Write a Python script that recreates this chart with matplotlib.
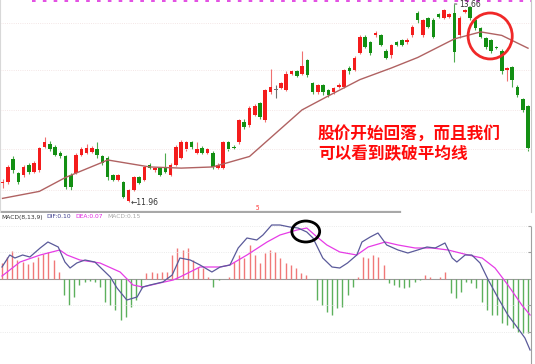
import matplotlib.pyplot as plt
import numpy as np
from matplotlib.patches import Ellipse

plt.rcParams['font.family'] = ['Noto Sans CJK SC', 'DejaVu Sans']

############################## Datos (K线) ##############################
opens = [12.12, 12.13, 12.33, 12.21, 12.19, 12.28, 12.22, 12.23, 12.43, 12.46,
         12.43, 12.38, 12.35, 12.19, 12.21, 12.36, 12.38, 12.39, 12.41, 12.35,
         12.34, 12.19, 12.15, 12.13, 11.97, 12.06, 12.17, 12.15, 12.28, 12.23,
         12.25, 12.26, 12.19, 12.28, 12.34, 12.41, 12.47, 12.38, 12.42, 12.38,
         12.38, 12.25, 12.25, 12.47, 12.43, 12.47, 12.65, 12.62, 12.71, 12.81,
         12.66, 12.90, 12.92, 12.94, 12.92, 13.06, 13.08, 13.06, 13.18, 12.98,
         12.90, 12.96, 12.92, 12.90, 12.95, 12.95, 13.11, 13.09, 13.24, 13.38,
         13.33, 13.39, 13.39, 13.26, 13.22, 13.33, 13.35, 13.33, 13.39, 13.58,
         13.39, 13.54, 13.52, 13.57, 13.54, 13.55, 13.58, 13.39, 13.59, 13.63,
         13.52, 13.45, 13.37, 13.35, 13.29, 13.26, 13.09, 13.12, 12.95, 12.84,
         12.78]
closes = [12.13, 12.26, 12.23, 12.13, 12.26, 12.22, 12.29, 12.42, 12.47, 12.41,
          12.36, 12.35, 12.09, 12.09, 12.36, 12.41, 12.42, 12.42, 12.36, 12.29,
          12.17, 12.15, 12.19, 12.00, 12.06, 12.17, 12.12, 12.26, 12.25, 12.25,
          12.19, 12.22, 12.28, 12.43, 12.47, 12.47, 12.43, 12.41, 12.38, 12.41,
          12.26, 12.28, 12.47, 12.41, 12.42, 12.66, 12.60, 12.77, 12.78, 12.69,
          12.92, 12.95, 12.92, 12.98, 13.06, 13.08, 13.04, 13.13, 13.05, 12.90,
          12.96, 12.90, 12.88, 12.94, 12.96, 13.09, 13.08, 13.20, 13.38, 13.29,
          13.24, 13.41, 13.31, 13.20, 13.31, 13.31, 13.31, 13.35, 13.46, 13.52,
          13.52, 13.46, 13.38, 13.55, 13.61, 13.57, 13.25, 13.54, 13.61, 13.54,
          13.45, 13.38, 13.29, 13.26, 13.28, 13.08, 13.11, 13.01, 12.88, 12.75,
          12.42]
highs = [12.16, 12.28, 12.35, 12.22, 12.28, 12.29, 12.31, 12.43, 12.52, 12.48,
         12.45, 12.40, 12.36, 12.21, 12.38, 12.43, 12.46, 12.44, 12.47, 12.36,
         12.35, 12.20, 12.20, 12.14, 12.07, 12.18, 12.18, 12.27, 12.29, 12.26,
         12.26, 12.38, 12.29, 12.45, 12.49, 12.48, 12.48, 12.47, 12.44, 12.42,
         12.40, 12.29, 12.48, 12.48, 12.45, 12.67, 12.67, 12.78, 12.80, 12.82,
         12.93, 13.10, 12.96, 12.99, 13.08, 13.09, 13.09, 13.26, 13.19, 12.99,
         12.97, 12.97, 12.93, 12.95, 12.98, 13.10, 13.13, 13.21, 13.39, 13.39,
         13.34, 13.43, 13.40, 13.27, 13.32, 13.34, 13.36, 13.37, 13.48, 13.60,
         13.53, 13.55, 13.54, 13.58, 13.62, 13.58, 13.66, 13.56, 13.62, 13.64,
         13.53, 13.46, 13.38, 13.36, 13.30, 13.27, 13.12, 13.13, 12.96, 12.85,
         12.79]
lows = [12.08, 12.11, 12.21, 12.11, 12.17, 12.20, 12.21, 12.22, 12.42, 12.40,
        12.35, 12.34, 12.07, 12.06, 12.20, 12.35, 12.37, 12.38, 12.34, 12.28,
        12.15, 12.14, 12.14, 11.99, 11.96, 12.05, 12.11, 12.14, 12.24, 12.22,
        12.18, 12.21, 12.18, 12.27, 12.33, 12.40, 12.41, 12.37, 12.37, 12.37,
        12.24, 12.24, 12.24, 12.40, 12.41, 12.46, 12.59, 12.60, 12.70, 12.67,
        12.65, 12.89, 12.85, 12.93, 12.91, 13.05, 13.03, 13.05, 13.03, 12.89,
        12.89, 12.88, 12.86, 12.89, 12.94, 12.94, 13.06, 13.08, 13.23, 13.28,
        13.22, 13.38, 13.30, 13.19, 13.20, 13.30, 13.30, 13.32, 13.38, 13.50,
        13.38, 13.45, 13.37, 13.54, 13.53, 13.54, 13.16, 13.37, 13.58, 13.52,
        13.44, 13.37, 13.27, 13.24, 13.27, 13.06, 13.00, 12.95, 12.86, 12.73,
        12.40]

# media movil
ma_day = [0, 7, 12, 19, 20, 28, 34, 40, 47, 53, 57, 62, 68, 74, 79, 86, 91, 95, 100]
ma_val = [11.99, 12.05, 12.17, 12.30, 12.32, 12.26, 12.25, 12.26, 12.35, 12.59,
          12.75, 12.87, 13.01, 13.11, 13.20, 13.36, 13.42, 13.39, 13.28]

############################## Datos MACD ##############################
macd_hist = [0.08, 0.11, 0.14, 0.095, 0.085, 0.075, 0.085, 0.11, 0.125, 0.135,
             0.095, 0.035, -0.08, -0.13, -0.09, -0.03, -0.015, -0.01, -0.015, -0.04,
             -0.115, -0.13, -0.155, -0.205, -0.19, -0.14, -0.105, -0.045, 0.03, 0.035,
             0.03, 0.035, 0.035, 0.12, 0.155, 0.145, 0.155, 0.095, 0.06, 0.055,
             0.01, -0.04, -0.005, 0.0, 0.01, 0.085, 0.12, 0.105, 0.17, 0.12,
             0.08, 0.13, 0.145, 0.135, 0.105, 0.08, 0.07, 0.055, 0.03, 0.02,
             0.0, -0.105, -0.13, -0.165, -0.18, -0.145, -0.14, -0.08, -0.04, 0.01,
             0.11, 0.105, 0.12, 0.11, 0.07, -0.02, -0.03, -0.04, -0.045, -0.04,
             -0.015, -0.005, 0.02, 0.01, 0.0, 0.01, 0.035, -0.07, -0.095, -0.065,
             -0.015, -0.02, -0.045, -0.115, -0.155, -0.18, -0.18, -0.22, -0.23, -0.245,
             -0.265, -0.27, -0.27]

dif_day = [0, 1.5, 2.5, 4, 5.4, 7.4, 8.9, 10.9, 12.2, 13.2, 14.5, 16.1, 18, 19, 21,
           22.3, 24.2, 26.2, 27.3, 28.7, 31.2, 33, 34.5, 36.5, 38.4, 40.7, 42.3, 44.2,
           45.8, 47.5, 49.4, 50.6, 52.3, 53.9, 55.8, 57.4, 59.1, 60.3, 62.2, 64, 65.5,
           67, 68.8, 69.8, 71.4, 72.9, 74.6, 76.8, 78.7, 80.6, 82.4, 84, 85.9, 87.3,
           88.2, 89.8, 91.1, 92.7, 94.3, 96.2, 98.1, 100, 101.4, 102.4]
dif_val = [0.06, 0.12, 0.105, 0.12, 0.11, 0.155, 0.185, 0.16, 0.085, 0.055, 0.08,
           0.095, 0.085, 0.06, 0.01, -0.045, -0.105, -0.09, -0.04, -0.03, -0.015,
           0.02, 0.105, 0.095, 0.07, 0.035, 0.06, 0.07, 0.155, 0.205, 0.195, 0.22,
           0.27, 0.27, 0.26, 0.255, 0.235, 0.205, 0.105, 0.06, 0.055, 0.08, 0.12,
           0.185, 0.21, 0.23, 0.17, 0.145, 0.13, 0.145, 0.16, 0.155, 0.18, 0.105,
           0.085, 0.12, 0.12, 0.08, -0.005, -0.095, -0.18, -0.245, -0.295, -0.355]

dea_day = [0, 3.5, 7.4, 11.2, 12.6, 15.1, 19, 22.9, 25.4, 27.3, 30.6, 33.2, 34.5,
           38.4, 42.3, 44.2, 47.5, 51.4, 53.9, 57.2, 59.1, 61.1, 63, 65.5, 68.8, 71,
           74.3, 76.8, 80.1, 83.4, 86.5, 90.4, 93.1, 95.6, 98.1, 100.8, 102.4]
dea_val = [0.015, 0.085, 0.12, 0.145, 0.12, 0.095, 0.08, 0.035, -0.03, -0.04, -0.02,
           -0.005, 0.01, 0.06, 0.06, 0.07, 0.12, 0.185, 0.22, 0.245, 0.255, 0.21,
           0.17, 0.135, 0.12, 0.16, 0.185, 0.17, 0.155, 0.155, 0.145, 0.12, 0.105,
           0.055, -0.03, -0.13, -0.18]

note_lines = ['股价开始回落，而且我们', '可以看到跌破平均线']
macd_header = [('MACD(8,13,9)', '#333333'), ('DIF:0.10', '#3c3c8c'),
               ('DEA:0.07', '#e020e0'), ('MACD:0.15', '#a8a8a8')]

############################## Figura ##############################
W, H = 535, 364
fig = plt.figure(figsize=(W / 100, H / 100), dpi=100)
ax = fig.add_axes([0, 152 / H, 531 / W, 212 / H])
ax2 = fig.add_axes([0, 0, 531 / W, 151 / H])

x = np.arange(len(opens))
o = np.array(opens)
c = np.array(closes)
up_col, dn_col, flat_col = '#f41c1c', '#138f13', '#707070'
cols = [up_col if cc > oo else (dn_col if cc < oo else flat_col) for oo, cc in zip(o, c)]
wick_cols = ['#f07070' if cc > oo else ('#4caa4c' if cc < oo else flat_col) for oo, cc in zip(o, c)]

body_bot = np.minimum(o, c)
body_h = np.maximum(np.abs(c - o), 0.012)
ax.vlines(x, lows, highs, colors=wick_cols, lw=0.8, zorder=1)
ax.bar(x, body_h, bottom=body_bot, width=0.68, color=cols, linewidth=0, zorder=2)

ax.plot(ma_day, ma_val, color='#b06262', lw=1.0, zorder=3)

ax.set_xlim(-0.48, len(opens) - 1 + 0.57)
ax.set_ylim(11.873, 13.694)
ax.set_yticks([13.50, 13.09, 12.75, 12.41, 12.06])
ax.grid(axis='y', color='#f0dede', ls=':', lw=0.6)
ax.tick_params(left=False, right=False, bottom=False, labelleft=False, labelbottom=False)
ax.set_xticks([])
for s in ['top', 'bottom']:
    ax.spines[s].set_visible(False)
ax.spines['left'].set_color('#d8d8d8')
ax.spines['right'].set_color('#c8c8c8')

# linea separadora y borde superior
ax.plot([0, 0.753], [0, 0], transform=ax.transAxes, color='#a8a8a8', lw=1.6, clip_on=False)
ax.plot([0.06, 1], [0.993, 0.993], transform=ax.transAxes, color='#e040e0', lw=1.3,
        ls=(0, (2, 4)), clip_on=False)

# maximo / minimo
low_i = int(np.argmin(lows))
high_i = int(np.argmax(highs))
ax.text(low_i + 0.4, lows[low_i] - 0.008, '←' + f'{lows[low_i]:.2f}', fontsize=5.5,
        color='#333333', ha='left', va='center', family='DejaVu Sans')
ax.annotate(f'{highs[high_i]:.2f}', xy=(high_i, highs[high_i]), xytext=(high_i + 1.0, highs[high_i] - 0.005),
            fontsize=5.5, color='#333333', ha='left', va='center', family='DejaVu Sans',
            arrowprops=dict(arrowstyle='-', color='#333333', lw=0.6))
ax.text(48.6, 11.905, '5', fontsize=4.5, color='#ff3030', ha='center', va='center')

# nota y circulo
ax.text(60.0, 12.539, note_lines[0], fontsize=12, fontweight='bold', color='#ff0a0a',
        ha='left', va='center')
ax.text(60.0, 12.367, note_lines[1], fontsize=12, fontweight='bold', color='#ff0a0a',
        ha='left', va='center')
ax.add_patch(Ellipse((92.8, 13.385), width=8.4, height=0.395, fill=False,
                     ec='#f02828', lw=2.0, zorder=5))

############################## Panel MACD ##############################
h = np.array(macd_hist)
xh = np.arange(len(h))
hcols = ['#f07878' if v > 0 else '#5cb05c' for v in h]
ax2.vlines(xh, 0, h, colors=hcols, lw=1.0, zorder=1)
ax2.axhline(0, color='#9a9a9a', lw=0.8, zorder=0)
ax2.plot(dea_day, dea_val, color='#e63ce6', lw=0.9, zorder=3)
ax2.plot(dif_day, dif_val, color='#5a5a9a', lw=0.9, zorder=4)
ax2.add_patch(Ellipse((58.9, 0.2375), width=5.4, height=0.105, fill=False,
                      ec='black', lw=2.0, zorder=5))

ax2.set_xlim(-0.39, len(h) - 1 + 0.58)
ax2.set_ylim(-0.425, 0.33)
ax2.set_yticks([0.265, 0.135, -0.13, -0.265])
ax2.grid(axis='y', color='#e4e4e4', ls=':', lw=0.6)
ax2.set_xticks([])
ax2.tick_params(left=False, labelleft=False, right=True, labelright=False,
                direction='in', length=2, color='#a0a0a0')
for s in ['top', 'bottom', 'left']:
    ax2.spines[s].set_visible(False)
ax2.spines['right'].set_color('#a0a0a0')
ax2.spines['right'].set_bounds(-0.425, 0.26)

# cabecera MACD: cada texto se coloca a continuacion del anterior
renderer = fig.canvas.get_renderer()
px = 1.0
for txt, col in macd_header:
    t = fig.text(px / W, 1 - 217 / H, txt, fontsize=4.3, color=col, ha='left', va='center',
                 family=['Liberation Sans Narrow', 'DejaVu Sans'])
    px = t.get_window_extent(renderer).x1 + 4

fig.savefig('out.png', dpi=100)
